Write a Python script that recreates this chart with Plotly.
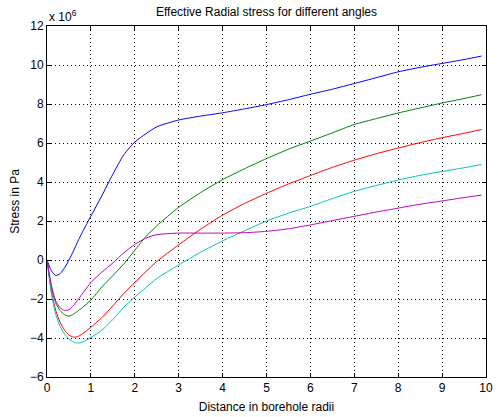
import plotly.graph_objects as go

# Radial distance from the borehole wall, in borehole radii
distance = [0, 0.1, 0.2, 0.3, 0.4, 0.5, 0.6, 0.7, 0.8, 1.0, 1.25, 1.5, 1.75,
            2.0, 2.25, 2.5, 3.0, 3.5, 4.0, 4.5, 5.0, 5.5, 6.0, 6.5, 7.0, 7.5,
            8.0, 8.5, 9.0, 9.5, 9.9]

# Effective radial stress (units of 1e6 Pa) for each angle
stress_blue = [0, -0.55, -0.8, -0.7, -0.4, 0.0, 0.45, 0.95, 1.4, 2.25, 3.3,
               4.4, 5.4, 6.05, 6.47, 6.83, 7.18, 7.38, 7.55, 7.75, 7.97, 8.22,
               8.5, 8.76, 9.05, 9.35, 9.65, 9.88, 10.08, 10.28, 10.46]
stress_green = [0, -1.4, -2.2, -2.6, -2.8, -2.88, -2.78, -2.62, -2.45, -2.05,
                -1.38, -0.8, -0.2, 0.5, 1.2, 1.75, 2.7, 3.46, 4.12, 4.68,
                5.2, 5.68, 6.1, 6.52, 6.95, 7.25, 7.54, 7.8, 8.05, 8.28, 8.48]
stress_red = [0, -1.6, -2.6, -3.2, -3.6, -3.85, -3.95, -3.93, -3.8, -3.45,
              -2.95, -2.35, -1.72, -1.15, -0.6, -0.08, 0.78, 1.58, 2.3, 2.9,
              3.42, 3.9, 4.33, 4.75, 5.12, 5.45, 5.74, 6.02, 6.27, 6.5, 6.69]
stress_cyan = [0, -1.7, -2.8, -3.4, -3.8, -4.05, -4.2, -4.26, -4.22, -3.97,
               -3.6, -3.05, -2.42, -1.9, -1.42, -0.95, -0.25, 0.4, 0.98, 1.5,
               2.0, 2.4, 2.75, 3.15, 3.52, 3.82, 4.1, 4.34, 4.54, 4.73, 4.9]
stress_magenta = [0, -1.3, -2.1, -2.45, -2.59, -2.55, -2.35, -2.05, -1.75,
                  -1.15, -0.62, -0.15, 0.37, 0.8, 1.12, 1.3, 1.38, 1.38, 1.38,
                  1.4, 1.47, 1.6, 1.8, 2.02, 2.24, 2.46, 2.66, 2.86, 3.03,
                  3.2, 3.33]

series = [
    (stress_blue, "#0000ff"),
    (stress_green, "#008000"),
    (stress_red, "#ff0000"),
    (stress_cyan, "#00bfbf"),
    (stress_magenta, "#bf00bf"),
]

x_ticks = list(range(0, 11))
y_ticks = list(range(-6, 13, 2))

fig = go.Figure()
for values, color in series:
    fig.add_trace(go.Scatter(x=distance, y=values, mode="lines",
                             line=dict(color=color, width=1, shape="spline",
                                       smoothing=0.6),
                             showlegend=False))

axis_common = dict(
    showline=True, linecolor="black", linewidth=1, mirror="ticks",
    ticks="inside", ticklen=4, tickcolor="black",
    showgrid=True, gridcolor="black", gridwidth=1, griddash="1px,3px",
    zeroline=False, tickfont=dict(size=12, color="black"),
    ticklabeloverflow="allow",
)

fig.update_xaxes(range=[0, 10], tickvals=x_ticks, **axis_common,
                 title=dict(text="Distance in borehole radii", standoff=8,
                            font=dict(size=12, color="black")))
fig.update_yaxes(range=[-6, 12], tickvals=y_ticks, **axis_common,
                 title=dict(text="Stress in Pa", standoff=7,
                            font=dict(size=12, color="black")))

fig.add_annotation(text="x 10<sup>6</sup>", xref="paper", yref="paper",
                   x=0, y=1, xanchor="left", yanchor="bottom", showarrow=False,
                   font=dict(size=12, color="black"))

fig.update_layout(
    width=498, height=417,
    margin=dict(l=47, r=5, t=26, b=39),
    paper_bgcolor="white", plot_bgcolor="white",
    font=dict(family="Liberation Sans, Arial, sans-serif", size=12, color="black"),
    title=dict(text="Effective Radial stress for different angles",
               x=0.5, xref="paper", y=1 - 12 / 417, yanchor="middle",
               font=dict(size=12, color="black")),
)

fig.write_html("out.html")
